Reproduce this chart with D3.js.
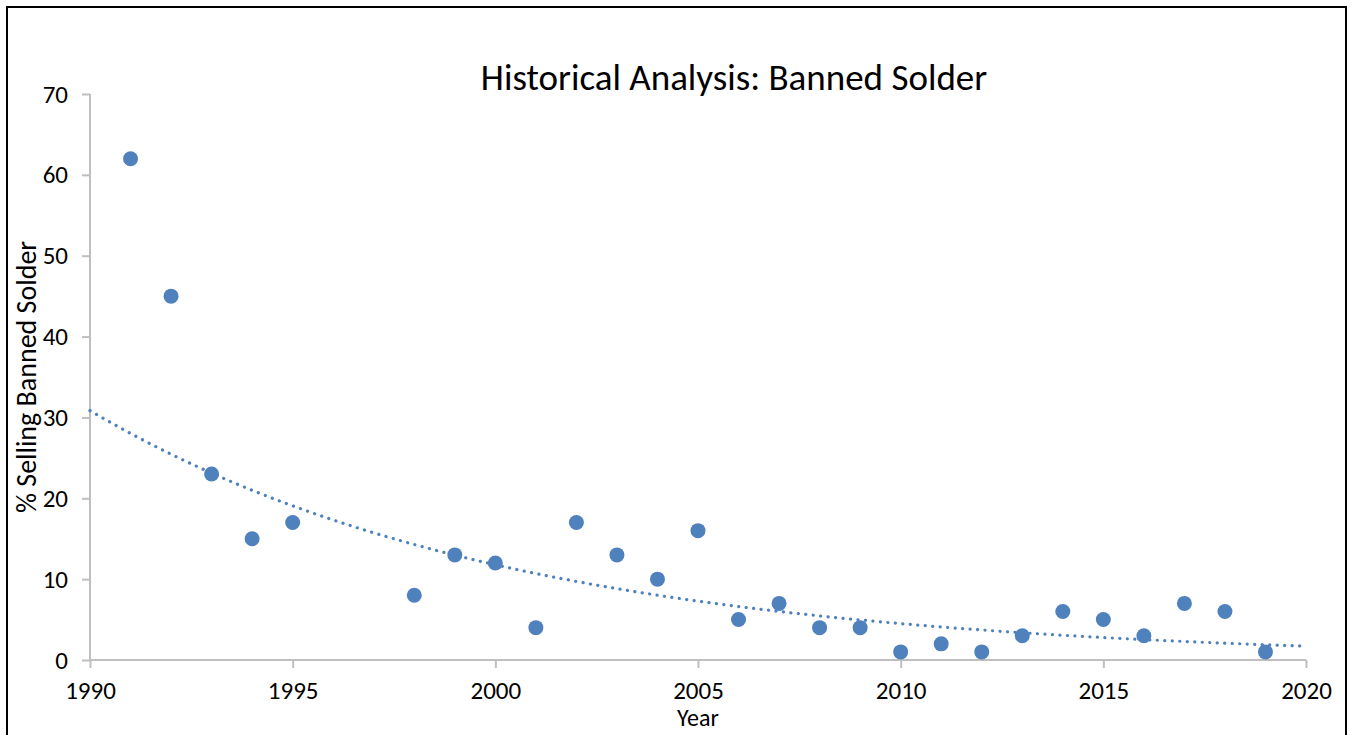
<!DOCTYPE html>
<html>
<head>
<meta charset="utf-8">
<script src="https://cdn.jsdelivr.net/npm/d3@7"></script>
<style>
    body { margin: 0; background: #fff; }
    svg text { font-family: Carlito, "Open Sans", Lato, sans-serif; fill: #000; }
</style>
</head>
<body>
<div id="screen"></div>
<script>
// values
var years = [1991, 1992, 1993, 1994, 1995, 1998, 1999, 2000, 2001, 2002, 2003, 2004, 2005,
             2006, 2007, 2008, 2009, 2010, 2011, 2012, 2013, 2014, 2015, 2016, 2017, 2018, 2019];
var percents = [62, 45, 23, 15, 17, 8, 13, 12, 4, 17, 13, 10, 16,
                5, 7, 4, 4, 1, 2, 1, 3, 6, 5, 3, 7, 6, 1];
var xTicks = [1990, 1995, 2000, 2005, 2010, 2015, 2020];
var yTicks = [0, 10, 20, 30, 40, 50, 60, 70];

var width = 1350;
var height = 735;
var margin = {left: 90, right: 44, top: 94, bottom: 75};
var blue = "#4f81bd";
var axisGrey = "#bfbfbf";

var svg = d3.select("#screen").append("svg")
    .attr("width", width)
    .attr("height", height);

// chart frame (bottom edge falls outside the window)
svg.append("rect")
    .attr("x", 7).attr("y", 7)
    .attr("width", 1339).attr("height", 760)
    .attr("fill", "white")
    .attr("stroke", "black")
    .attr("stroke-width", 2);

var x = d3.scaleLinear().domain([1990, 2020]).range([margin.left, width - margin.right]);
var y = d3.scaleLinear().domain([0, 70]).range([height - margin.bottom, margin.top]);

// exponential trendline, least squares on ln(y) like the spreadsheet does
var fit = (function() {
    var xs = years.map(d => d - 1990);
    var ls = percents.map(d => Math.log(d));
    var mx = d3.mean(xs), ml = d3.mean(ls);
    var sxy = d3.sum(xs, (d, i) => (d - mx) * (ls[i] - ml));
    var sxx = d3.sum(xs, d => (d - mx) * (d - mx));
    var b = sxy / sxx;
    var a = ml - b * mx;
    return function(yr) { return Math.exp(a + b * (yr - 1990)); };
})();

var trendYears = d3.range(1990, 2020.01, 0.25);

var yAxis = d3.axisLeft(y).tickValues(yTicks).tickSize(8).tickPadding(14);
var xAxis = d3.axisBottom(x).tickValues(xTicks).tickFormat(d3.format("d")).tickSize(8).tickPadding(13);

var gy = svg.append("g")
    .attr("transform", "translate(" + margin.left + ",0)")
    .call(yAxis);
var gx = svg.append("g")
    .attr("transform", "translate(0," + (height - margin.bottom) + ")")
    .call(xAxis);

[gx, gy].forEach(function(g) {
    g.selectAll("path.domain").attr("stroke", axisGrey).attr("stroke-width", 2);
    g.selectAll(".tick line").attr("stroke", axisGrey).attr("stroke-width", 2);
    g.selectAll(".tick text").style("font-size", "25px").attr("fill", "#000");
});
gy.select("path.domain").attr("d", "M0," + y(70) + "V" + y(0));
gx.select("path.domain").attr("d", "M" + x(1990) + ",0H" + x(2020));

svg.append("path")
    .datum(trendYears)
    .attr("fill", "none")
    .attr("stroke", blue)
    .attr("stroke-width", 3.2)
    .attr("stroke-linecap", "round")
    .attr("stroke-dasharray", "0.1 7.4")
    .attr("d", d3.line().x(d => x(d)).y(d => y(fit(d))));

svg.append("g").selectAll("circle")
    .data(years)
    .enter().append("circle")
    .attr("cx", d => x(d))
    .attr("cy", (d, i) => y(percents[i]))
    .attr("r", 7.5)
    .attr("fill", blue);

svg.append("text")
    .attr("x", 734).attr("y", 90)
    .attr("text-anchor", "middle")
    .style("font-size", "37px")
    .text("Historical Analysis: Banned Solder");

svg.append("text")
    .attr("x", 698).attr("y", 726)
    .attr("text-anchor", "middle")
    .style("font-size", "24px")
    .text("Year");

svg.append("text")
    .attr("transform", "translate(36,377) rotate(-90)")
    .attr("text-anchor", "middle")
    .style("font-size", "28px")
    .text("% Selling Banned Solder");
</script>
</body>
</html>
